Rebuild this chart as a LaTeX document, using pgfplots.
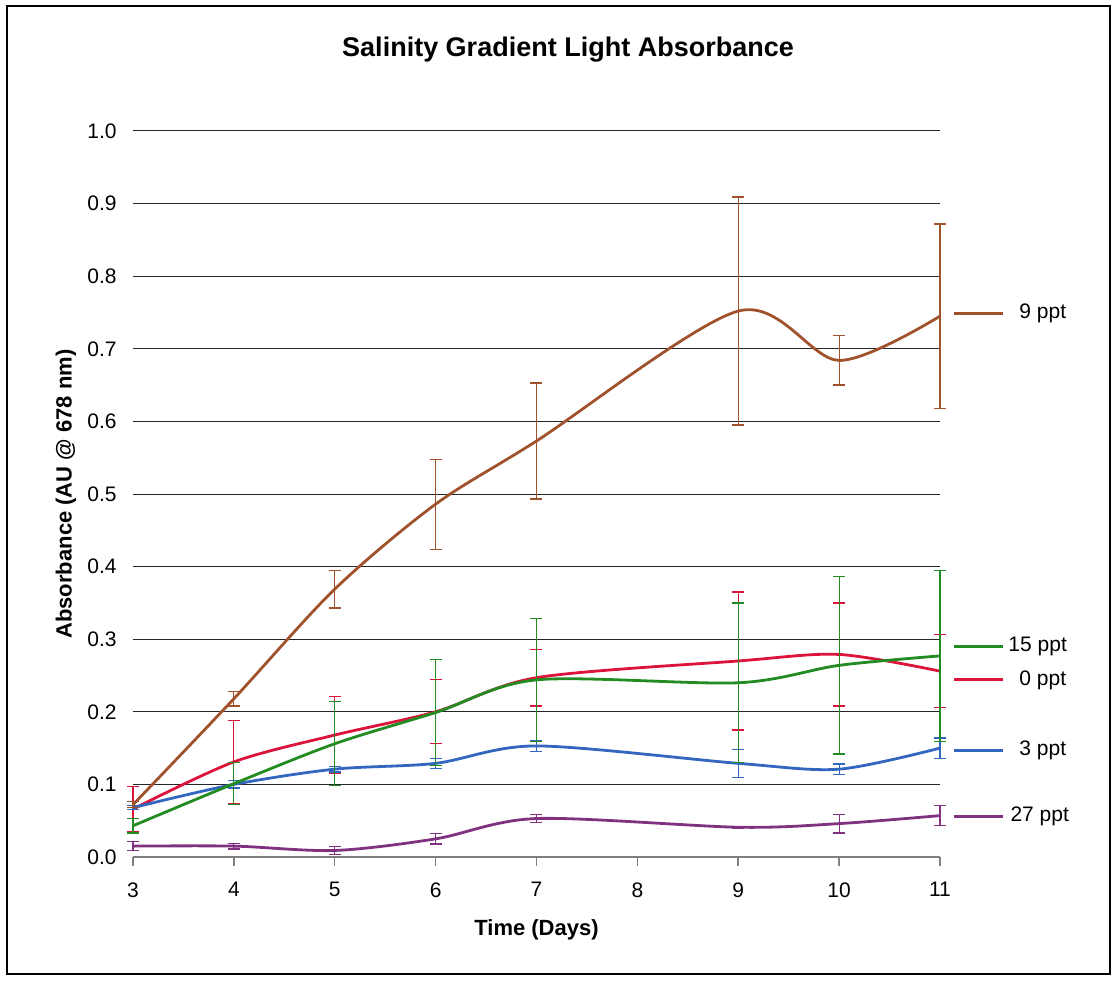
\documentclass[border=0pt]{standalone}
\usepackage{pgfplots}
\pgfplotsset{compat=1.18}
\usepackage{fontspec}
\setmainfont{Liberation Sans}

\definecolor{cbrown}{RGB}{160,82,45}
\definecolor{cred}{RGB}{220,20,60}
\definecolor{cgreen}{RGB}{34,139,34}
\definecolor{cblue}{RGB}{51,102,190}
\definecolor{cpurple}{RGB}{128,50,128}

\pgfplotsset{
  errstyle/.style={
    error bars/.cd, y dir=both, y explicit,
    error bar style={line width=0.6pt, solid},
    error mark options={rotate=90, mark size=3pt, line width=0.6pt, solid}
  }
}

\begin{document}
\begin{tikzpicture}[x=1pt,y=1pt]
\path (-66.5,-61.5) rectangle (492,428.5);
\draw[line width=0.65pt] (-63,-58.5) rectangle (488.5,425.5);
\node[font=\bfseries\fontsize{13.5}{16}\selectfont] at (217.5,403.5) {Salinity Gradient Light Absorbance};
\begin{axis}[
  at={(0,0)}, anchor=south west,
  scale only axis, width=403.5pt, height=363pt,
  xmin=3, xmax=11, ymin=0, ymax=1,
  axis x line*=bottom, axis y line*=left,
  y axis line style={draw=none},
  x axis line style={draw=gray, line width=0.75pt},
  xtick={3,4,5,6,7,8,9,10,11},
  ytick={0,0.1,0.2,0.3,0.4,0.5,0.6,0.7,0.8,0.9,1},
  tick align=outside,
  xtick style={draw=gray, line width=0.75pt},
  ytick style={draw=none},
  major tick length=4.5pt,
  ymajorgrids,
  grid style={black!85, line width=0.5pt},
  /pgf/number format/assume math mode=true,
  y tick label style={/pgf/number format/fixed, /pgf/number format/fixed zerofill, /pgf/number format/precision=1, anchor=east, inner sep=0pt, xshift=-3.5pt, font=\fontsize{10.5}{12}\selectfont},
  x tick label style={anchor=north, inner sep=0pt, yshift=-8pt, font=\fontsize{10.5}{12}\selectfont},
  xlabel={Time (Days)},
  ylabel={Absorbance (AU @ 678 nm)},
  every axis x label/.style={at={(axis description cs:0.5,-0.1006)}, anchor=center, font=\bfseries\fontsize{11}{13}\selectfont},
  every axis y label/.style={at={(axis description cs:-0.083,0.5)}, anchor=center, rotate=90, font=\bfseries\fontsize{11}{13}\selectfont},
  clip=false,
]
% 0 ppt
\addplot[cred, line width=1.4pt, smooth, errstyle] table[x=x, y=y, y error=e] {
x y e
3 0.066 0.031
4 0.131 0.057
5 0.168 0.053
6 0.200 0.044
7 0.247 0.039
9 0.270 0.095
10 0.279 0.071
11 0.256 0.050
};
% 3 ppt
\addplot[cblue, line width=1.4pt, smooth, errstyle] table[x=x, y=y, y error=e] {
x y e
3 0.068 0.003
4 0.100 0.005
5 0.121 0.004
6 0.129 0.007
7 0.153 0.008
9 0.129 0.019
10 0.121 0.007
11 0.150 0.014
};
% 15 ppt
\addplot[cgreen, line width=1.4pt, smooth, errstyle] table[x=x, y=y, y error=e] {
x y e
3 0.043 0.010
4 0.101 0.029
5 0.156 0.058
6 0.199 0.073
7 0.244 0.085
9 0.240 0.110
10 0.264 0.122
11 0.277 0.118
};
% 9 ppt
\addplot[cbrown, line width=1.4pt, smooth, errstyle] table[x=x, y=y, y error=e] {
x y e
3 0.072 0.004
4 0.218 0.010
5 0.369 0.026
6 0.486 0.062
7 0.573 0.080
9 0.752 0.157
10 0.684 0.034
11 0.745 0.127
};
% 27 ppt
\addplot[cpurple, line width=1.4pt, smooth, errstyle] table[x=x, y=y, y error=e] {
x y e
3 0.015 0.006
4 0.015 0.004
5 0.009 0.006
6 0.025 0.007
7 0.053 0.005
9 0.041 0.001
10 0.046 0.013
11 0.057 0.014
};
% labels at right
\draw[cbrown, line width=1.4pt] (axis cs:11.139,0.749) -- (axis cs:11.625,0.749);
\node[anchor=west, inner sep=0pt, font=\fontsize{10.5}{12}\selectfont] at (axis cs:11.784,0.749) {9 ppt};
\draw[cgreen, line width=1.4pt] (axis cs:11.139,0.290) -- (axis cs:11.625,0.290);
\node[anchor=west, inner sep=0pt, font=\fontsize{10.5}{12}\selectfont] at (axis cs:11.675,0.290) {15 ppt};
\draw[cred, line width=1.4pt] (axis cs:11.139,0.244) -- (axis cs:11.625,0.244);
\node[anchor=west, inner sep=0pt, font=\fontsize{10.5}{12}\selectfont] at (axis cs:11.784,0.244) {0 ppt};
\draw[cblue, line width=1.4pt] (axis cs:11.139,0.147) -- (axis cs:11.625,0.147);
\node[anchor=west, inner sep=0pt, font=\fontsize{10.5}{12}\selectfont] at (axis cs:11.784,0.147) {3 ppt};
\draw[cpurple, line width=1.4pt] (axis cs:11.139,0.0555) -- (axis cs:11.625,0.0555);
\node[anchor=west, inner sep=0pt, font=\fontsize{10.5}{12}\selectfont] at (axis cs:11.695,0.0555) {27 ppt};
\end{axis}
\end{tikzpicture}
\end{document}
